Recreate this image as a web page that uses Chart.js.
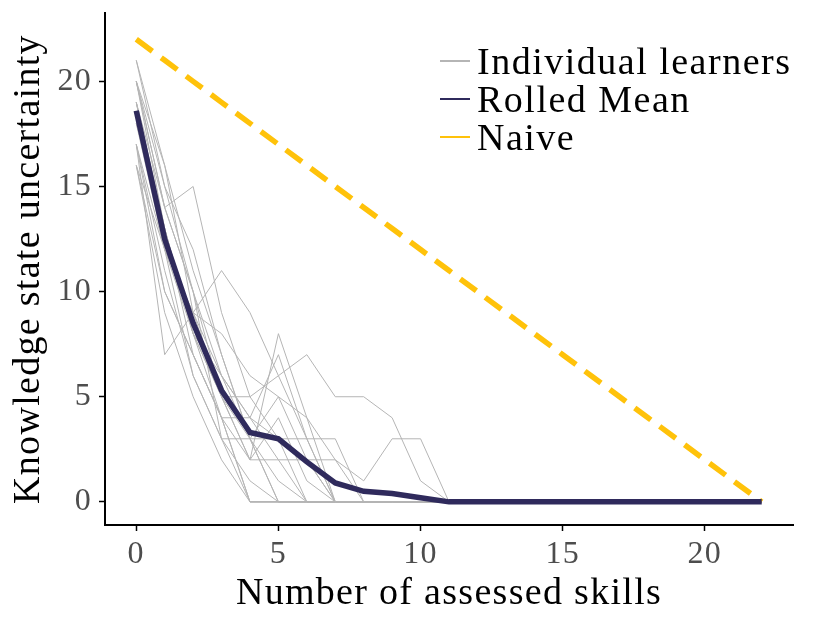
<!DOCTYPE html>
<html>
<head>
<meta charset="utf-8">
<script src="https://cdn.jsdelivr.net/npm/chart.js@4.4.1/dist/chart.umd.min.js"></script>
<style>
  html, body { margin: 0; padding: 0; background: #fff; }
  #wrap { position: relative; width: 831px; height: 627px; }
  #legend { position: absolute; left: 440px; top: 42px; font-family: 'Liberation Serif', serif; font-size: 38px; letter-spacing: 1.5px; color: #000; }
  #legend .row { display: flex; align-items: center; height: 38px; }
  #legend .sw { width: 30px; height: 2px; margin-right: 7px; }
</style>
</head>
<body>
<div id="wrap">
  <canvas id="chart" width="831" height="627"></canvas>
  <div id="legend">
    <div class="row"><span class="sw" style="background:#b5b5b5"></span>Individual learners</div>
    <div class="row"><span class="sw" style="background:#2f2a5c"></span>Rolled Mean</div>
    <div class="row"><span class="sw" style="background:#ffc20a"></span>Naive</div>
  </div>
</div>
<script>
// x positions: number of assessed skills
const SKILLS = [0,1,2,3,4,5,6,7,8,9,10,11,12,13,14,15,16,17,18,19,20,21,22];
const X_TICKS = [0, 5, 10, 15, 20];
const Y_TICKS = [0, 5, 10, 15, 20];

// uncertainty per learner (trailing zeros are filled up to 22 skills)
const learner01 = [21,15,10,6,3,0];
const learner02 = [20,14,15,9,5,3,0];
const learner03 = [20,16,9,5,2,8,4,0];
const learner04 = [19,13,8,4,0];
const learner05 = [19,12,9,6,4,7,3,0];
const learner06 = [17,7,9,11,9,6,3,0];
const learner07 = [17,12,6,3,3,3,3,3,0];
const learner08 = [16,9,5,2,0];
const learner09 = [16,10,7,4,2,2,2,2,1,3,3,0];
const learner10 = [18,13,8,5,3,0];
const learner11 = [19,14,10,5,5,6,7,5,5,4,1,0];
const learner12 = [20,13,7,4,0];
const learner13 = [17,11,6,3,1,0];
const learner14 = [21,16,11,7,3,1,0];
const learner15 = [18,12,9,8,6,5,2,0];
const learner16 = [20,14,10,3,0];
const learner17 = [17,10,7,4,4,3,2,0];
const learner18 = [19,13,8,5,2,4,1,0];
const learner19 = [16,12,8,6,4,2,0];
const learner20 = [20,15,12,7,3,5,4,2,0];
const LEARNERS = [learner01, learner02, learner03, learner04, learner05, learner06, learner07,
  learner08, learner09, learner10, learner11, learner12, learner13, learner14, learner15,
  learner16, learner17, learner18, learner19, learner20];

const ROLLED_MEAN = [18.6,12.5,8.5,5.3,3.3,3.0,1.9,0.9,0.5,0.4,0.2,0,0,0,0,0,0,0,0,0,0,0,0];
const NAIVE = [22,21,20,19,18,17,16,15,14,13,12,11,10,9,8,7,6,5,4,3,2,1,0];

const FONT = "'Liberation Serif', serif";

function toPoints(vals) {
  return SKILLS.map((x, i) => ({ x: x, y: i < vals.length ? vals[i] : 0 }));
}

const datasets = [
  { label: 'Rolled Mean', data: toPoints(ROLLED_MEAN), borderColor: '#2f2a5c', borderWidth: 5.5, pointRadius: 0, tension: 0 },
  { label: 'Naive', data: toPoints(NAIVE), borderColor: '#ffc20a', borderWidth: 5.5, borderDash: [20, 11], pointRadius: 0 }
];
LEARNERS.forEach(l => {
  datasets.push({ label: 'Individual learners', data: toPoints(l), borderColor: '#b5b5b5', borderWidth: 1, pointRadius: 0 });
});

// a bit of letter spacing so the serif text is as wide as the original one
const spacing = {
  id: 'spacing',
  beforeDraw(chart) { chart.ctx.letterSpacing = '1.3px'; }
};

function noPad(s) {
  s.paddingTop = 0; s.paddingBottom = 0; s.paddingLeft = 0; s.paddingRight = 0;
}

new Chart(document.getElementById('chart'), {
  type: 'line',
  data: { datasets: datasets },
  plugins: [spacing],
  options: {
    responsive: false,
    animation: false,
    layout: { padding: { left: 0, right: 38, top: 13, bottom: 0 } },
    plugins: { legend: { display: false }, tooltip: { enabled: false } },
    scales: {
      x: {
        type: 'linear', min: -1.1, max: 23.1,
        afterBuildTicks: s => { s.ticks = X_TICKS.map(v => ({ value: v })); },
        afterFit: s => { s.height = 102; noPad(s); },
        grid: { display: true, drawOnChartArea: false, drawTicks: true, tickLength: 6, tickColor: '#000', tickWidth: 1.5 },
        border: { display: true, color: '#000', width: 2 },
        ticks: { color: '#4d4d4d', font: { family: FONT, size: 32 }, padding: 4, maxRotation: 0 },
        title: { display: true, text: 'Number of assessed skills', color: '#000', font: { family: FONT, size: 38 }, padding: { top: 0, bottom: 10 } }
      },
      y: {
        type: 'linear', min: -1.1, max: 23.25,
        afterBuildTicks: s => { s.ticks = Y_TICKS.map(v => ({ value: v })); },
        afterFit: s => { s.width = 105; noPad(s); },
        grid: { display: true, drawOnChartArea: false, drawTicks: true, tickLength: 6, tickColor: '#000', tickWidth: 1.5 },
        border: { display: true, color: '#000', width: 2 },
        ticks: { color: '#4d4d4d', font: { family: FONT, size: 32 }, padding: 7 },
        title: { display: true, text: 'Knowledge state uncertainty', color: '#000', font: { family: FONT, size: 38 }, padding: { top: 6, bottom: 0 } }
      }
    }
  }
});
</script>
</body>
</html>
